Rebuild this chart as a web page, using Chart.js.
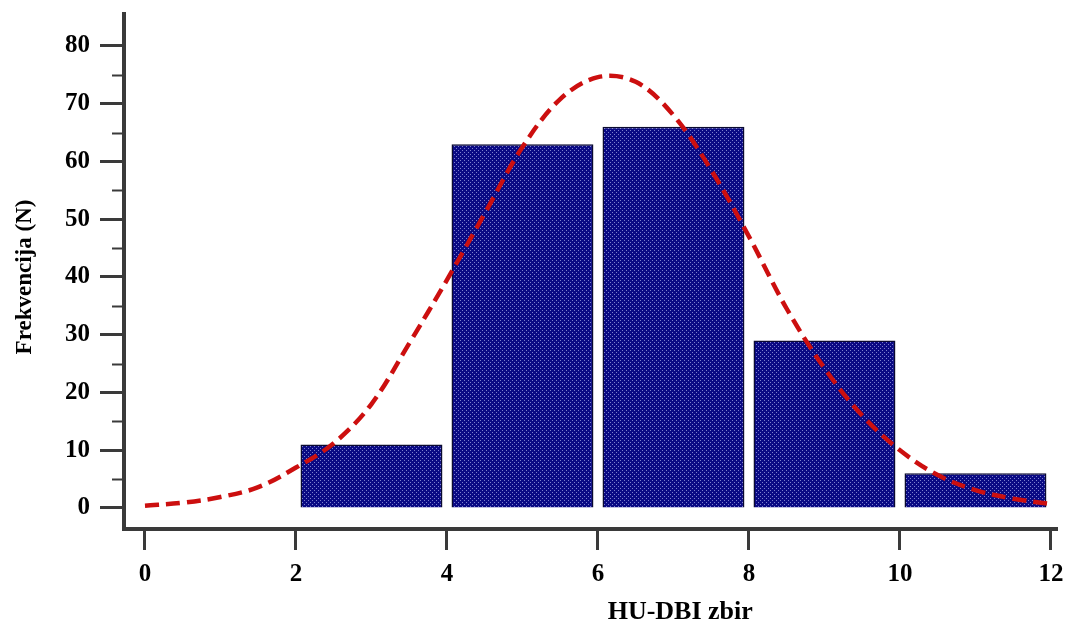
<!DOCTYPE html>
<html>
<head>
<meta charset="utf-8">
<script src="https://cdn.jsdelivr.net/npm/chart.js@4.4.1/dist/chart.umd.min.js"></script>
<style>
  html, body { margin: 0; padding: 0; background: #ffffff; }
  #wrap { width: 1069px; height: 623px; }
</style>
</head>
<body>
<div id="wrap"><canvas id="c" width="1069" height="623"></canvas></div>
<script>
// ---- data ----
const binCenters = [3, 5, 7, 9, 11];
const frequencies = [11, 63, 66, 29, 6];
const curveX = [0, 0.5, 1, 1.5, 2, 2.5, 3, 3.5, 4, 4.5, 5, 5.5, 6, 6.5, 7, 7.5, 8, 8.5, 9, 9.5, 10, 10.5, 11, 11.5, 12];
const curveY = [0.4, 0.9, 1.9, 3.6, 7, 11.2, 18, 28.5, 39.5, 51, 62.5, 70.8, 74.6, 73.8, 68, 58.5, 47, 34.5, 24.2, 16, 10, 5.7, 3.1, 1.6, 0.7];
const xTickValues = [0, 2, 4, 6, 8, 10, 12];
const yTickValues = [0, 10, 20, 30, 40, 50, 60, 70, 80];
const yMinorTickValues = [5, 15, 25, 35, 45, 55, 65, 75];
const xTitle = 'HU-DBI zbir';
const yTitle = 'Frekvencija (N)';

// ---- styles ----
const FONT = "'Liberation Serif', 'Times New Roman', serif";
const AXIS_COLOR = '#3a3a3a';

function makePattern() {
  const p = document.createElement('canvas');
  p.width = 4; p.height = 4;
  const g = p.getContext('2d');
  g.fillStyle = '#0a0a84';
  g.fillRect(0, 0, 4, 4);
  g.fillStyle = 'rgba(200,205,255,0.6)';
  g.fillRect(0, 0, 1, 1);
  g.fillRect(2, 2, 1, 1);
  return document.getElementById('c').getContext('2d').createPattern(p, 'repeat');
}

const minorTicksPlugin = {
  id: 'minorTicks',
  afterDraw(chart) {
    const y = chart.scales.y;
    const ctx = chart.ctx;
    const left = chart.chartArea.left;
    ctx.save();
    ctx.strokeStyle = AXIS_COLOR;
    ctx.lineWidth = 2;
    yMinorTickValues.forEach(v => {
      const py = Math.round(y.getPixelForValue(v)) + 0.5;
      ctx.beginPath();
      ctx.moveTo(left - 12, py);
      ctx.lineTo(left, py);
      ctx.stroke();
    });
    ctx.restore();
  }
};

const titlesPlugin = {
  id: 'axisTitles',
  afterDraw(chart) {
    const ctx = chart.ctx;
    const xs = chart.scales.x;
    const ys = chart.scales.y;
    ctx.save();
    ctx.fillStyle = '#000000';
    ctx.textAlign = 'center';
    ctx.textBaseline = 'middle';
    ctx.font = "bold 26px " + FONT;
    ctx.fillText(xTitle, xs.getPixelForValue(7.09), 612);
    ctx.font = "bold 23px " + FONT;
    ctx.translate(25, ys.getPixelForValue(40));
    ctx.rotate(-Math.PI / 2);
    ctx.fillText(yTitle, 0, 0);
    ctx.restore();
  }
};

const ctx = document.getElementById('c').getContext('2d');
const chart = new Chart(ctx, {
  type: 'bar',
  data: {
    datasets: [
      {
        type: 'line',
        label: 'Normal',
        data: curveX.map((x, i) => ({ x: x, y: curveY[i] })),
        borderColor: '#cc0f0f',
        borderWidth: 4.5,
        borderDash: [14, 7],
        borderCapStyle: 'butt',
        pointRadius: 0,
        tension: 0.35,
        fill: false,
        order: 0
      },
      {
        type: 'bar',
        label: 'Frekvencija',
        data: binCenters.map((x, i) => ({ x: x, y: frequencies[i] })),
        backgroundColor: makePattern(),
        borderColor: '#0a0a30',
        borderWidth: 1.5,
        barPercentage: 0.94,
        categoryPercentage: 1.0,
        order: 1
      }
    ]
  },
  options: {
    responsive: false,
    animation: false,
    devicePixelRatio: 1,
    layout: { padding: { left: 0, top: 14, right: 12, bottom: 0 } },
    plugins: {
      legend: { display: false },
      tooltip: { enabled: false },
      title: { display: false }
    },
    scales: {
      x: {
        type: 'linear',
        offset: false,
        min: -0.278,
        max: 12.08,
        afterBuildTicks: (s) => { s.ticks = xTickValues.map(v => ({ value: v })); },
        afterFit: (s) => { s.height = 94; s.paddingLeft = 0; s.paddingRight = 0; },
        ticks: {
          autoSkip: false,
          maxRotation: 0,
          color: '#000000',
          padding: 10,
          font: { family: FONT, size: 25, weight: 'bold' },
          callback: (v) => String(v)
        },
        grid: {
          display: true,
          offset: false,
          drawOnChartArea: false,
          drawTicks: true,
          tickLength: 21,
          tickWidth: 3,
          tickColor: AXIS_COLOR
        },
        border: { display: true, color: AXIS_COLOR, width: 4 }
      },
      y: {
        type: 'linear',
        min: -3.64,
        max: 85.54,
        afterBuildTicks: (s) => { s.ticks = yTickValues.map(v => ({ value: v })); },
        afterFit: (s) => { s.width = 124; s.paddingTop = 0; s.paddingBottom = 0; },
        ticks: {
          autoSkip: false,
          color: '#000000',
          padding: 10,
          font: { family: FONT, size: 25, weight: 'bold' },
          callback: (v) => String(v)
        },
        grid: {
          display: true,
          drawOnChartArea: false,
          drawTicks: true,
          tickLength: 24,
          tickWidth: 3,
          tickColor: AXIS_COLOR
        },
        border: { display: true, color: AXIS_COLOR, width: 4 }
      }
    }
  },
  plugins: [minorTicksPlugin, titlesPlugin]
});
</script>
</body>
</html>
